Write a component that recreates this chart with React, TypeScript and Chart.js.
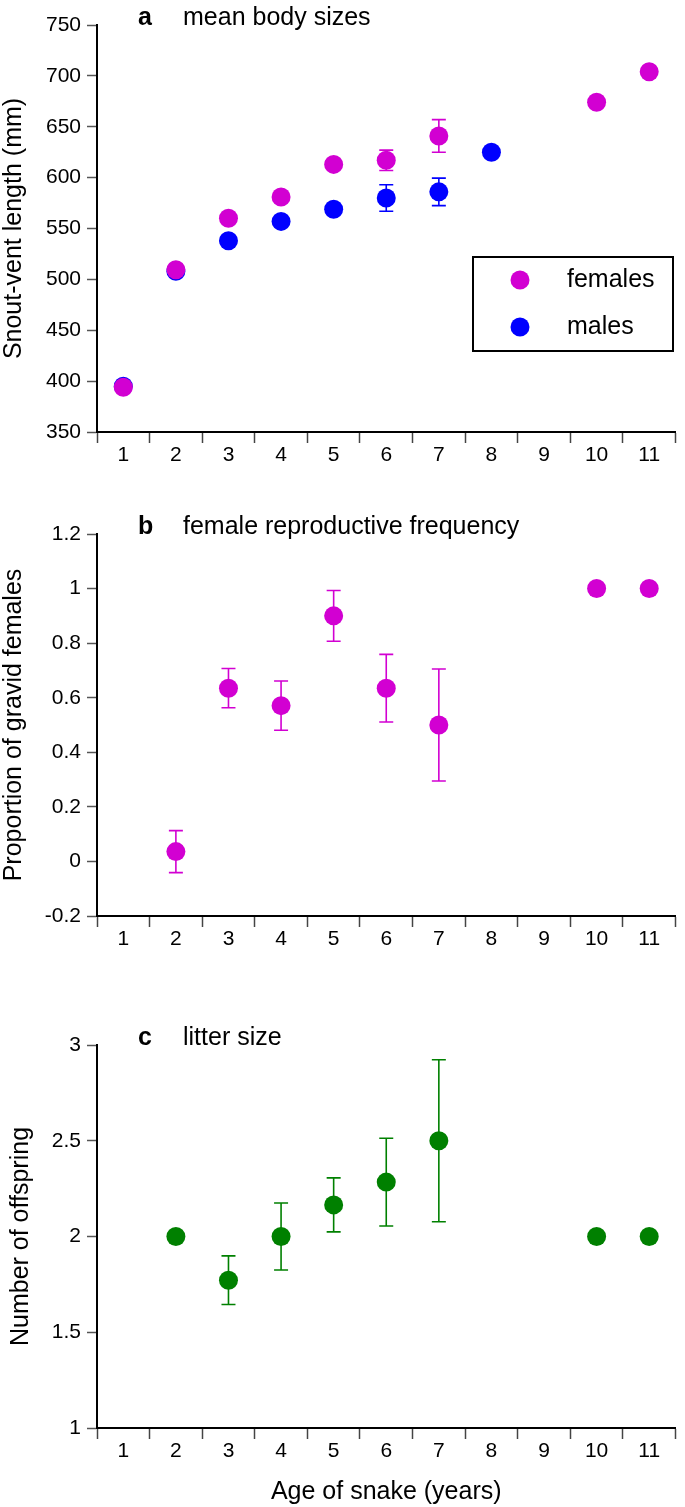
import React, { useEffect, useRef } from 'react';
import { Chart, registerables } from 'chart.js';

Chart.register(...registerables);

// ---------- data ----------
const ages = ['1', '2', '3', '4', '5', '6', '7', '8', '9', '10', '11'];

const femaleSVL = [394, 509.5, 560, 581, 613, 617, 641, null, null, 674, 704];
const femaleSVLErr = [0, 0, 0, 3, 3, 10, 16, 0, 0, 0, 0];
const maleSVL = [395, 508, 538, 557, 569, 580, 586, 625, null, null, null];
const maleSVLErr = [0, 0, 0, 0, 4, 13, 13.5, 0, 0, 0, 0];

const gravidProp = [null, 0.036, 0.635, 0.571, 0.9, 0.635, 0.5, null, null, 1, 1];
const gravidErr = [0, 0.077, 0.072, 0.09, 0.093, 0.124, 0.205, 0, 0, 0, 0];

const litterSize = [null, 2, 1.772, 2, 2.165, 2.284, 2.5, null, null, 2, 2];
const litterErr = [0, 0, 0.127, 0.175, 0.141, 0.229, 0.423, 0, 0, 0, 0];

const svlTicks = [350, 400, 450, 500, 550, 600, 650, 700, 750];
const propTicks = [-0.2, 0, 0.2, 0.4, 0.6, 0.8, 1, 1.2];
const litterTicks = [1, 1.5, 2, 2.5, 3];

// ---------- styles ----------
const FONT = '"Liberation Sans", Arial, Helvetica, sans-serif';
const MAGENTA = '#D200D2';
const BLUE = '#0000FF';
const GREEN = '#008000';

const errorBarPlugin = {
  id: 'errorBars',
  beforeDatasetsDraw(chart: any) {
    const ctx = chart.ctx;
    const yScale = chart.scales.y;
    chart.data.datasets.forEach((ds: any, i: number) => {
      const meta = chart.getDatasetMeta(i);
      const errs: number[] = ds.errors || [];
      meta.data.forEach((pt: any, j: number) => {
        const v = ds.data[j];
        const e = errs[j];
        if (v == null || !e) return;
        const x = pt.x;
        const yTop = yScale.getPixelForValue(v + e);
        const yBot = yScale.getPixelForValue(v - e);
        ctx.save();
        ctx.strokeStyle = ds.pointBackgroundColor;
        ctx.lineWidth = 1.6;
        ctx.beginPath();
        ctx.moveTo(x, yTop);
        ctx.lineTo(x, yBot);
        ctx.moveTo(x - 7, yTop);
        ctx.lineTo(x + 7, yTop);
        ctx.moveTo(x - 7, yBot);
        ctx.lineTo(x + 7, yBot);
        ctx.stroke();
        ctx.restore();
      });
    });
  },
};

const panelTitlePlugin = {
  id: 'panelTitle',
  afterDraw(chart: any, _args: any, opts: any) {
    if (!opts || !opts.letter) return;
    const { ctx, chartArea } = chart;
    ctx.save();
    ctx.fillStyle = '#000';
    ctx.textBaseline = 'alphabetic';
    ctx.textAlign = 'left';
    ctx.font = `bold 25px ${FONT}`;
    ctx.fillText(opts.letter, chartArea.left + 41, chartArea.top + (opts.dy || 0));
    ctx.font = `25px ${FONT}`;
    ctx.fillText(opts.text, chartArea.left + 86, chartArea.top + (opts.dy || 0));
    ctx.restore();
  },
};

const boxLegendPlugin = {
  id: 'boxLegend',
  afterDraw(chart: any, _args: any, opts: any) {
    if (!opts || !opts.show) return;
    const { ctx, chartArea } = chart;
    const bx = chartArea.left + 376;
    const by = chartArea.top + 232;
    const bw = 200;
    const bh = 94;
    ctx.save();
    ctx.fillStyle = '#fff';
    ctx.fillRect(bx, by, bw, bh);
    ctx.strokeStyle = '#000';
    ctx.lineWidth = 2;
    ctx.strokeRect(bx, by, bw, bh);
    chart.data.datasets.forEach((ds: any, i: number) => {
      const cy = by + 23 + i * 47;
      ctx.fillStyle = ds.pointBackgroundColor;
      ctx.beginPath();
      ctx.arc(bx + 47, cy, 9.5, 0, Math.PI * 2);
      ctx.fill();
      ctx.fillStyle = '#000';
      ctx.font = `25px ${FONT}`;
      ctx.textBaseline = 'middle';
      ctx.textAlign = 'left';
      ctx.fillText(ds.label, bx + 94, cy);
    });
    ctx.restore();
  },
};

function makeDataset(label: string, data: (number | null)[], errors: number[], color: string) {
  return {
    label,
    data,
    errors,
    showLine: false,
    pointRadius: 9.5,
    pointHoverRadius: 9.5,
    pointBorderWidth: 0,
    pointBackgroundColor: color,
    pointBorderColor: color,
    backgroundColor: color,
    borderColor: color,
  };
}

type PanelProps = {
  height: number;
  top: number;
  areaTop: number;
  areaBottom: number;
  datasets: any[];
  yTicks: number[];
  yTitle: string;
  yTitleSize: number;
  yTitlePad: number;
  xTitle?: string;
  letter: string;
  text: string;
  legend?: boolean;
};

function Panel(p: PanelProps) {
  const ref = useRef<HTMLCanvasElement | null>(null);
  useEffect(() => {
    if (!ref.current) return;
    const yMin = p.yTicks[0];
    const yMax = p.yTicks[p.yTicks.length - 1];
    const chart = new Chart(ref.current, {
      type: 'line',
      data: { labels: ages, datasets: p.datasets },
      plugins: [errorBarPlugin, panelTitlePlugin, boxLegendPlugin],
      options: {
        responsive: false,
        animation: false,
        devicePixelRatio: 1,
        events: [],
        layout: { padding: { top: p.areaTop, right: 2, left: 0, bottom: 0 } },
        plugins: {
          legend: { display: false },
          tooltip: { enabled: false },
          panelTitle: { letter: p.letter, text: p.text },
          boxLegend: { show: !!p.legend },
        } as any,
        scales: {
          x: {
            type: 'category',
            offset: true,
            grid: {
              offset: true,
              drawOnChartArea: false,
              drawTicks: true,
              tickLength: 11,
              tickColor: '#444',
              tickWidth: 1.5,
            },
            border: { display: true, color: '#000', width: 2 },
            ticks: {
              autoSkip: false,
              maxRotation: 0,
              padding: 0,
              color: '#000',
              font: { family: FONT, size: 21 },
            },
            title: {
              display: !!p.xTitle,
              text: p.xTitle || '',
              color: '#000',
              font: { family: FONT, size: 25 },
              padding: { top: 0, bottom: 0 },
            },
            afterFit: (s: any) => {
              s.height = p.height - p.areaBottom;
            },
          },
          y: {
            type: 'linear',
            min: yMin,
            max: yMax,
            grid: {
              drawOnChartArea: false,
              drawTicks: true,
              tickLength: 10,
              tickColor: '#555',
              tickWidth: 1.5,
            },
            border: { display: true, color: '#000', width: 2 },
            ticks: {
              padding: 6,
              color: '#000',
              font: { family: FONT, size: 21 },
              callback: (v: any) => String(Math.round(Number(v) * 100) / 100),
            },
            afterBuildTicks: (s: any) => {
              s.ticks = p.yTicks.map((v) => ({ value: v }));
            },
            title: {
              display: true,
              text: p.yTitle,
              color: '#000',
              font: { family: FONT, size: p.yTitleSize },
              padding: { top: p.yTitlePad, bottom: 0 },
            },
            afterFit: (s: any) => {
              s.width = 97;
            },
          },
        },
      } as any,
    });
    return () => chart.destroy();
  }, []);
  return (
    <canvas
      ref={ref}
      width={685}
      height={p.height}
      style={{ position: 'absolute', left: 0, top: p.top, width: 685, height: p.height, display: 'block' }}
    />
  );
}

export default function App() {
  return (
    <div style={{ position: 'absolute', left: 0, top: 0, width: 685, height: 1507, background: '#fff' }}>
      <Panel
        top={0}
        height={480}
        areaTop={25}
        areaBottom={432}
        datasets={[
          makeDataset('females', femaleSVL, femaleSVLErr, MAGENTA),
          makeDataset('males', maleSVL, maleSVLErr, BLUE),
        ]}
        yTicks={svlTicks}
        yTitle="Snout-vent length (mm)"
        yTitleSize={25}
        yTitlePad={-1}
        letter="a"
        text="mean body sizes"
        legend
      />
      <Panel
        top={480}
        height={480}
        areaTop={54}
        areaBottom={436}
        datasets={[makeDataset('females', gravidProp, gravidErr, MAGENTA)]}
        yTicks={propTicks}
        yTitle="Proportion of gravid females"
        yTitleSize={25}
        yTitlePad={-1}
        letter="b"
        text="female reproductive frequency"
      />
      <Panel
        top={960}
        height={547}
        areaTop={85}
        areaBottom={468}
        datasets={[makeDataset('litter', litterSize, litterErr, GREEN)]}
        yTicks={litterTicks}
        yTitle="Number of offspring"
        yTitleSize={25}
        yTitlePad={6}
        xTitle="Age of snake (years)"
        letter="c"
        text="litter size"
      />
    </div>
  );
}
